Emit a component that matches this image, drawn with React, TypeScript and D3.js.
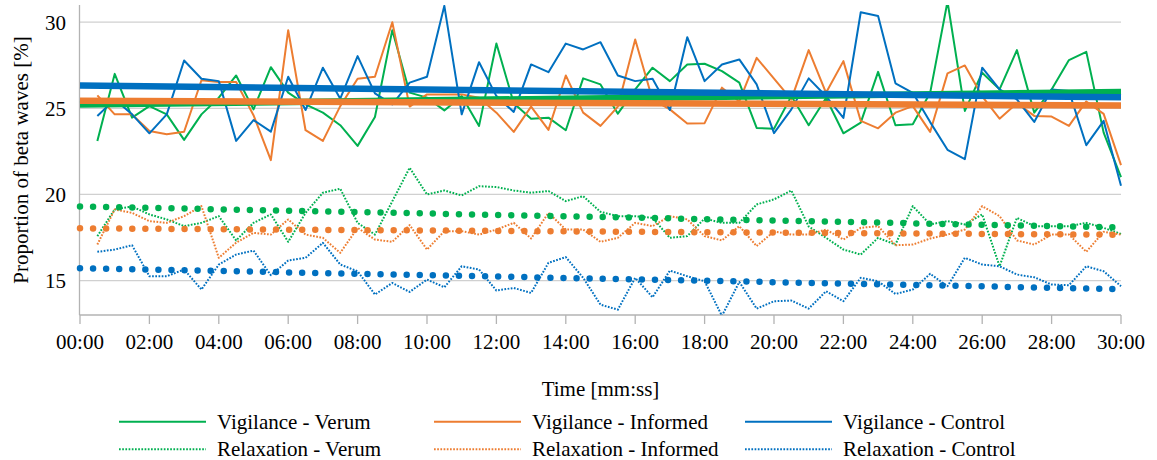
import React from "react";
import * as d3 from "d3";

// ---- data (one point every 30 s, 00:30 .. 30:00) ----
const seriesNames = [
  "Vigilance - Verum",
  "Vigilance - Informed",
  "Vigilance - Control",
  "Relaxation - Verum",
  "Relaxation - Informed",
  "Relaxation - Control",
];

const vigVerum = [
  23.1, 27.0, 24.46, 25.13, 24.65, 23.17, 24.65, 25.62, 26.91, 24.94,
  27.39, 25.91, 25.23, 24.75, 24.02, 22.82, 24.5, 29.54, 25.91, 25.62,
  24.88, 25.71, 23.98, 28.76, 25.3, 24.4, 24.46, 23.73, 26.74, 26.39,
  24.69, 26.1, 27.36, 26.58, 27.55, 27.59, 27.16, 26.49, 23.86, 23.82,
  25.71, 24.02, 25.6, 23.55, 24.17, 27.12, 24.02, 24.08, 25.9, 31.2,
  24.85, 27.07, 26.1, 28.38, 24.75, 26.1, 27.8, 28.28, 23.59, 21.0,
];
const vigInformed = [
  25.75, 24.65, 24.65, 23.69, 23.5, 23.64, 26.63, 26.53, 26.53, 24.6,
  21.99, 29.54, 23.73, 23.11, 25.13, 26.72, 26.83, 30.0, 25.1, 25.81,
  25.81, 25.81, 25.62, 24.75, 23.63, 25.1, 23.75, 26.91, 24.75, 23.98,
  25.1, 29.0, 25.5, 24.94, 24.12, 24.14, 26.2, 25.4, 27.93, 26.72,
  25.52, 28.38, 25.9, 27.74, 24.27, 23.84, 24.75, 25.13, 23.63, 27.03,
  27.49, 25.7, 24.4, 25.3, 24.56, 24.52, 23.98, 25.4, 24.68, 21.7,
];
const vigControl = [
  24.56, 25.52, 24.65, 23.55, 24.65, 27.78, 26.72, 26.58, 23.11, 24.32,
  23.65, 26.83, 24.9, 27.36, 25.56, 28.03, 25.87, 25.23, 26.49, 26.83,
  30.95, 24.65, 27.68, 25.71, 24.79, 27.55, 27.1, 28.76, 28.42, 28.84,
  26.91, 26.58, 26.72, 24.9, 29.13, 26.58, 27.55, 27.84, 26.39, 23.56,
  24.94, 26.74, 25.7, 24.44, 30.58, 30.36, 26.45, 25.9, 24.2, 22.59,
  22.05, 27.36, 26.1, 25.52, 24.21, 26.1, 26.0, 22.86, 24.27, 20.5,
];
const relVerum = [
  17.58, 19.13, 19.3, 18.84, 18.55, 18.16, 18.35, 18.74, 17.33, 18.35,
  18.84, 17.25, 18.93, 20.1, 20.33, 18.35, 17.67, 19.6, 21.55, 20.0,
  20.23, 19.94, 20.48, 20.43, 20.23, 20.1, 20.2, 19.61, 19.9, 18.99,
  18.74, 18.74, 18.64, 17.48, 17.58, 18.6, 18.35, 18.35, 19.42, 19.71,
  20.23, 18.14, 17.48, 16.8, 16.51, 17.48, 17.09, 19.32, 18.26, 18.45,
  18.26, 18.84, 15.83, 18.64, 18.16, 18.16, 18.16, 18.35, 18.06, 17.71,
];
const relInformed = [
  17.09, 19.13, 18.93, 18.45, 18.35, 18.74, 19.32, 16.32, 17.2, 17.77,
  17.67, 18.55, 17.67, 17.48, 16.61, 18.06, 17.38, 17.25, 18.22, 16.8,
  17.87, 17.87, 17.67, 17.96, 18.35, 17.44, 18.93, 17.96, 17.96, 17.25,
  17.48, 18.35, 18.16, 18.74, 18.55, 17.58, 17.33, 18.16, 17.0, 17.85,
  17.67, 17.67, 17.96, 17.38, 18.06, 18.16, 17.05, 17.09, 17.44, 17.67,
  17.96, 19.32, 18.74, 17.33, 17.09, 17.67, 17.67, 16.67, 17.83, 17.67,
];
const relControl = [
  16.67, 16.8, 17.05, 15.25, 15.25, 15.64, 14.48, 15.93, 16.51, 16.74,
  15.31, 16.16, 16.32, 17.19, 15.93, 15.54, 14.19, 14.86, 14.34, 15.06,
  14.61, 15.83, 15.64, 14.42, 14.57, 14.28, 16.03, 16.36, 15.16, 13.6,
  13.31, 15.16, 14.03, 15.58, 15.25, 14.96, 12.95, 14.92, 13.37, 13.8,
  13.84, 13.37, 14.38, 13.8, 15.16, 14.96, 14.22, 14.48, 15.39, 14.67,
  16.32, 15.93, 15.83, 15.35, 15.19, 14.77, 14.73, 15.83, 15.54, 14.67,
];

// linear trend lines: value at 00:00 and at 30:00 (same order as seriesNames)
const trendStart = [25.22, 25.44, 26.32, 19.3, 18.03, 15.72];
const trendEnd = [25.95, 25.17, 25.64, 18.08, 17.66, 14.5];

const xTickLabels = [
  "00:00", "02:00", "04:00", "06:00", "08:00", "10:00", "12:00", "14:00",
  "16:00", "18:00", "20:00", "22:00", "24:00", "26:00", "28:00", "30:00",
];
const yTicks = [15, 20, 25, 30];

// ---- styling ----
const GREEN = "#00b050";
const ORANGE = "#ed7d31";
const BLUE = "#0070c0";
const FONT = "'Liberation Serif', 'Times New Roman', serif";

const W = 1157;
const H = 460;
const L = 80, R = 1121, T = 5, B = 315;

const allValues = [vigVerum, vigInformed, vigControl, relVerum, relInformed, relControl];
const colors = [GREEN, ORANGE, BLUE, GREEN, ORANGE, BLUE];
const dotted = [false, false, false, true, true, true];

const times = d3.range(1, 61).map((i) => i * 30); // seconds

export default function App() {
  const x = d3.scaleLinear().domain([0, 1800]).range([L, R]);
  const y = d3.scaleLinear().domain([13, 31]).range([B, T]);
  const line = d3
    .line<number>()
    .x((_, i) => x(times[i]))
    .y((d) => y(d));

  const tickSecs = xTickLabels.map((_, i) => i * 120);

  const drawOrder = [3, 4, 5, 0, 1, 2];
  const trendOrder = [3, 4, 5, 0, 1, 2];

  const legendCols = [119, 434, 745];
  const legendRows = [421.7, 449.3];

  return (
    <svg
      width={W}
      height={H}
      style={{ position: "absolute", left: 0, top: 0, background: "#fff" }}
      fontFamily={FONT}
    >
      <defs>
        <clipPath id="plotClip">
          <rect x={L - 4} y={T} width={R - L + 8} height={B - T} />
        </clipPath>
      </defs>
      <rect x={0} y={0} width={W} height={H} fill="#fff" />

      {/* gridlines */}
      {yTicks.map((t) => (
        <line key={t} x1={L} x2={R} y1={y(t)} y2={y(t)} stroke="#d0d0d0" strokeWidth={1.3} />
      ))}

      {/* axes */}
      <line x1={L - 0.5} x2={L - 0.5} y1={T} y2={B} stroke="#b3b3b3" strokeWidth={1.3} />
      <line x1={L - 0.5} x2={R} y1={B} y2={B} stroke="#b3b3b3" strokeWidth={1.3} />
      {tickSecs.map((s) => (
        <line key={s} x1={x(s)} x2={x(s)} y1={B} y2={B + 9} stroke="#b3b3b3" strokeWidth={1.3} />
      ))}

      {/* y tick labels */}
      {yTicks.map((t) => (
        <text
          key={t}
          x={66}
          y={y(t)}
          dy="0.35em"
          textAnchor="end"
          fontSize={21}
          fill="#000"
        >
          {t}
        </text>
      ))}

      {/* x tick labels */}
      {xTickLabels.map((lab, i) => (
        <text key={lab} x={x(tickSecs[i])} y={349} textAnchor="middle" fontSize={21} fill="#000">
          {lab}
        </text>
      ))}

      {/* axis titles */}
      <text
        transform={`translate(27.5,${(T + B) / 2}) rotate(-90)`}
        textAnchor="middle"
        fontSize={21}
        fill="#000"
      >
        Proportion of beta waves [%]
      </text>
      <text x={(L + R) / 2} y={396} textAnchor="middle" fontSize={21} fill="#000">
        Time [mm:ss]
      </text>

      {/* data lines */}
      <g clipPath="url(#plotClip)">
        {drawOrder.map((k) => (
          <path
            key={seriesNames[k]}
            d={line(allValues[k]) || ""}
            fill="none"
            stroke={colors[k]}
            strokeWidth={2}
            strokeDasharray={dotted[k] ? "1.7 1.5" : undefined}
            strokeLinejoin="round"
          />
        ))}

        {/* trend lines */}
        {trendOrder.map((k) => (
          <line
            key={"trend" + k}
            x1={x(0)}
            x2={x(1800)}
            y1={y(trendStart[k])}
            y2={y(trendEnd[k])}
            stroke={colors[k]}
            strokeWidth={dotted[k] ? 6.5 : 6.5}
            strokeLinecap={dotted[k] ? "round" : "butt"}
            strokeDasharray={dotted[k] ? "0 13.07" : undefined}
          />
        ))}
      </g>

      {/* legend */}
      {seriesNames.map((name, k) => {
        const col = k % 3;
        const row = k < 3 ? 0 : 1;
        const lx = legendCols[col];
        const ly = legendRows[row];
        return (
          <g key={"leg" + k}>
            <line
              x1={lx}
              x2={lx + 87}
              y1={ly}
              y2={ly}
              stroke={colors[k]}
              strokeWidth={2}
              strokeDasharray={dotted[k] ? "1.7 1.5" : undefined}
            />
            <text x={lx + 98} y={row === 0 ? 429 : 456} fontSize={21} fill="#000">
              {name}
            </text>
          </g>
        );
      })}
    </svg>
  );
}
